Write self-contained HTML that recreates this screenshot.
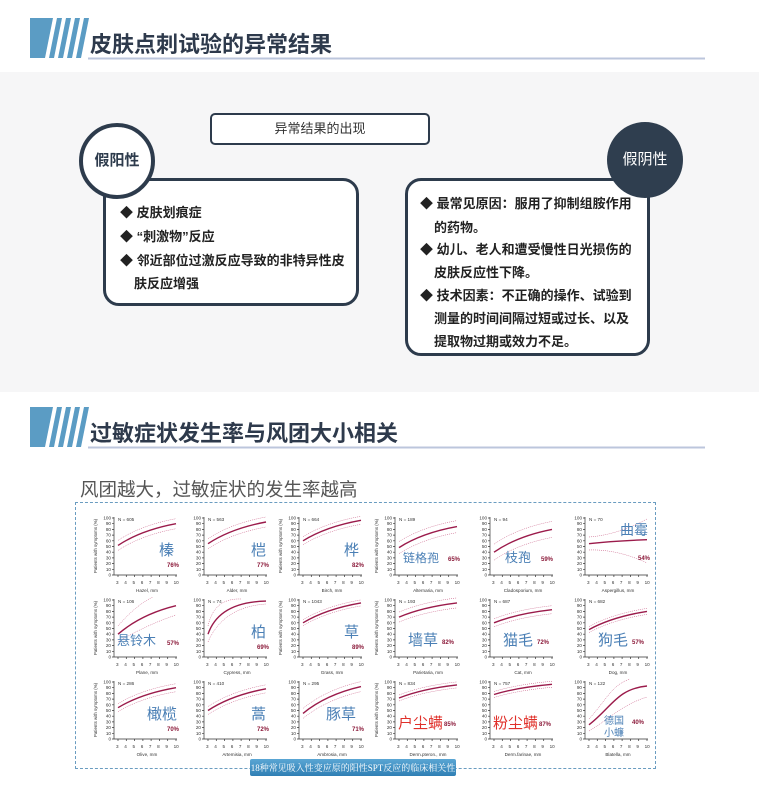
<!DOCTYPE html>
<html><head><meta charset="utf-8"><style>
body{margin:0;width:759px;height:791px;background:#fff;position:relative;overflow:hidden;font-family:"Liberation Sans","Noto Sans CJK SC",sans-serif}
.a{position:absolute}
.box{position:absolute;border:3px solid #2d3b4c;border-radius:16px;background:#fff;box-sizing:border-box}
.ln{position:absolute;font-size:13px;color:#222;white-space:nowrap;font-weight:bold}
</style></head><body>
<div class="a" style="left:0;top:72px;width:759px;height:320px;background:#f6f6f7"></div>
<svg class="a" style="left:0;top:0" width="759" height="791">
 <g fill="#5b9cc4">
  <polygon points="30,18 53,18 45,58 30,58"/>
  <polygon points="57,18 62,18 54,58 49,58"/>
  <polygon points="66,18 71,18 63,58 58,58"/>
  <polygon points="75,18 80,18 72,58 67,58"/>
  <polygon points="84,18 89,18 81,58 76,58"/>
  <polygon points="30,407 53,407 45,447 30,447"/>
  <polygon points="57,407 62,407 54,447 49,447"/>
  <polygon points="66,407 71,407 63,447 58,447"/>
  <polygon points="75,407 80,407 72,447 67,447"/>
  <polygon points="84,407 89,407 81,447 76,447"/>
 </g>
 <line x1="88" y1="58.5" x2="705" y2="58.5" stroke="#bcc6dc" stroke-width="2"/>
 <line x1="88" y1="447.5" x2="705" y2="447.5" stroke="#bcc6dc" stroke-width="2"/>
 <text x="90" y="52" font-size="22" font-weight="bold" fill="#2e3a4c" font-family="Liberation Sans,Noto Sans CJK SC,sans-serif">皮肤点刺试验的异常结果</text>
 <text x="90" y="441" font-size="22" font-weight="bold" fill="#2e3a4c" font-family="Liberation Sans,Noto Sans CJK SC,sans-serif">过敏症状发生率与风团大小相关</text>
</svg>

<div class="a" style="left:210px;top:113px;width:220px;height:32px;border:2px solid #2d3b4c;border-radius:5px;box-sizing:border-box;background:#fff;text-align:center;line-height:28px;font-size:13px;color:#333">异常结果的出现</div>

<div class="box" style="left:103px;top:178px;width:256px;height:128px"></div>
<div class="ln" style="left:120px;top:202px">◆ 皮肤划痕症</div>
<div class="ln" style="left:120px;top:226px">◆ “刺激物”反应</div>
<div class="ln" style="left:120px;top:250px">◆ 邻近部位过激反应导致的非特异性皮</div>
<div class="ln" style="left:134px;top:273px">肤反应增强</div>
<div class="a" style="left:79px;top:123px;width:76px;height:76px;border-radius:50%;border:4px solid #2d3b4c;background:#fff;box-sizing:border-box;text-align:center;line-height:68px;font-size:15px;font-weight:bold;color:#2d3b4c">假阳性</div>

<div class="box" style="left:405px;top:178px;width:245px;height:178px"></div>
<div class="ln" style="left:420px;top:193px">◆ 最常见原因：服用了抑制组胺作用</div>
<div class="ln" style="left:434px;top:217px">的药物。</div>
<div class="ln" style="left:420px;top:239px">◆ 幼儿、老人和遭受慢性日光损伤的</div>
<div class="ln" style="left:434px;top:262px">皮肤反应性下降。</div>
<div class="ln" style="left:420px;top:285px">◆ 技术因素：不正确的操作、试验到</div>
<div class="ln" style="left:434px;top:308px">测量的时间间隔过短或过长、以及</div>
<div class="ln" style="left:434px;top:331px">提取物过期或效力不足。</div>
<div class="a" style="left:607px;top:122px;width:76px;height:76px;border-radius:50%;background:#2f3e4f;text-align:center;line-height:76px;font-size:15px;color:#fff">假阴性</div>

<div class="a" style="left:80px;top:476px;font-size:18.5px;color:#555">风团越大，过敏症状的发生率越高</div>
<div class="a" style="left:75px;top:502px;width:581px;height:267px;border:1.5px dashed #6a9cc0;box-sizing:border-box"></div>

<svg class="a" style="left:0;top:0" width="759" height="791" font-family="Liberation Sans,Noto Sans CJK SC,sans-serif">
<defs>
 <g id="fr" stroke="#333" stroke-width="0.7" fill="none">
  <path d="M23,4V62H86M23,5h-2M23,10.7h-2M23,16.4h-2M23,22.1h-2M23,27.8h-2M23,33.5h-2M23,39.2h-2M23,44.9h-2M23,50.6h-2M23,56.3h-2M23,62h-2M27,62v2M35.3,62v2M43.6,62v2M51.9,62v2M60.1,62v2M68.4,62v2M76.7,62v2M85,62v2"/>
 </g>
</defs>
<g font-size="4.6" fill="#333">
<g transform="translate(91,513)"><use href="#fr"/>
<text x="20" y="6.5" text-anchor="end">100</text><text x="20" y="35" text-anchor="end">50</text><text x="20" y="63.5" text-anchor="end">0</text>
<text x="20" y="12.2" text-anchor="end">90</text><text x="20" y="17.9" text-anchor="end">80</text><text x="20" y="23.6" text-anchor="end">70</text><text x="20" y="29.3" text-anchor="end">60</text><text x="20" y="40.7" text-anchor="end">40</text><text x="20" y="46.4" text-anchor="end">30</text><text x="20" y="52.1" text-anchor="end">20</text><text x="20" y="57.8" text-anchor="end">10</text>
<text x="25" y="71" word-spacing="4.4">3 4 5 6 7 8 9 10</text><text x="56" y="79" text-anchor="middle">Hazel, mm</text><text x="27" y="8">N = 605</text>
<text transform="translate(6,33) rotate(-90)" text-anchor="middle" font-size="4.4">Patients with symptoms (%)</text>
<path d="M27,32.4Q50,17.2 85,10.7" stroke="#9b1b4b" stroke-width="1.4" fill="none"/><path d="M27,32.4Q50,17.2 85,10.7" stroke="#c04070" stroke-width=".5" stroke-dasharray="1,1" fill="none" transform="translate(0,-5)"/><path d="M27,32.4Q50,17.2 85,10.7" stroke="#c04070" stroke-width=".5" stroke-dasharray="1,1" fill="none" transform="translate(0,5)"/>
<text x="68" y="42" font-size="15" fill="#4a7fb5">榛</text><text x="88" y="54" font-size="6" font-weight="bold" fill="#8b1a3a" text-anchor="end">76%</text></g>

<g transform="translate(181,513)"><use href="#fr"/>
<text x="20" y="6.5" text-anchor="end">100</text><text x="20" y="35" text-anchor="end">50</text><text x="20" y="63.5" text-anchor="end">0</text><text x="20" y="12.2" text-anchor="end">90</text><text x="20" y="17.9" text-anchor="end">80</text><text x="20" y="23.6" text-anchor="end">70</text><text x="20" y="29.3" text-anchor="end">60</text><text x="20" y="40.7" text-anchor="end">40</text><text x="20" y="46.4" text-anchor="end">30</text><text x="20" y="52.1" text-anchor="end">20</text><text x="20" y="57.8" text-anchor="end">10</text>
<text x="25" y="71" word-spacing="4.4">3 4 5 6 7 8 9 10</text><text x="56" y="79" text-anchor="middle">Alder, mm</text><text x="27" y="8">N = 563</text>
<path d="M27,30.7Q50,15.5 85,9" stroke="#9b1b4b" stroke-width="1.4" fill="none"/><path d="M27,30.7Q50,15.5 85,9" stroke="#c04070" stroke-width=".5" stroke-dasharray="1,1" fill="none" transform="translate(0,-5)"/><path d="M27,30.7Q50,15.5 85,9" stroke="#c04070" stroke-width=".5" stroke-dasharray="1,1" fill="none" transform="translate(0,5)"/>
<text x="70" y="42" font-size="15" fill="#4a7fb5">桤</text><text x="88" y="54" font-size="6" font-weight="bold" fill="#8b1a3a" text-anchor="end">77%</text></g>

<g transform="translate(276,513)"><use href="#fr"/>
<text x="20" y="6.5" text-anchor="end">100</text><text x="20" y="35" text-anchor="end">50</text><text x="20" y="63.5" text-anchor="end">0</text><text x="20" y="12.2" text-anchor="end">90</text><text x="20" y="17.9" text-anchor="end">80</text><text x="20" y="23.6" text-anchor="end">70</text><text x="20" y="29.3" text-anchor="end">60</text><text x="20" y="40.7" text-anchor="end">40</text><text x="20" y="46.4" text-anchor="end">30</text><text x="20" y="52.1" text-anchor="end">20</text><text x="20" y="57.8" text-anchor="end">10</text>
<text x="25" y="71" word-spacing="4.4">3 4 5 6 7 8 9 10</text><text x="56" y="79" text-anchor="middle">Birch, mm</text><text x="27" y="8">N = 664</text>
<text transform="translate(6,33) rotate(-90)" text-anchor="middle" font-size="4.4">Patients with symptoms (%)</text>
<path d="M27,27.8Q50,13.5 85,7.3" stroke="#9b1b4b" stroke-width="1.4" fill="none"/><path d="M27,27.8Q50,13.5 85,7.3" stroke="#c04070" stroke-width=".5" stroke-dasharray="1,1" fill="none" transform="translate(0,-4)"/><path d="M27,27.8Q50,13.5 85,7.3" stroke="#c04070" stroke-width=".5" stroke-dasharray="1,1" fill="none" transform="translate(0,4)"/>
<text x="68" y="42" font-size="15" fill="#4a7fb5">桦</text><text x="88" y="54" font-size="6" font-weight="bold" fill="#8b1a3a" text-anchor="end">82%</text></g>

<g transform="translate(372,513)"><use href="#fr"/>
<text x="20" y="6.5" text-anchor="end">100</text><text x="20" y="35" text-anchor="end">50</text><text x="20" y="63.5" text-anchor="end">0</text><text x="20" y="12.2" text-anchor="end">90</text><text x="20" y="17.9" text-anchor="end">80</text><text x="20" y="23.6" text-anchor="end">70</text><text x="20" y="29.3" text-anchor="end">60</text><text x="20" y="40.7" text-anchor="end">40</text><text x="20" y="46.4" text-anchor="end">30</text><text x="20" y="52.1" text-anchor="end">20</text><text x="20" y="57.8" text-anchor="end">10</text>
<text x="25" y="71" word-spacing="4.4">3 4 5 6 7 8 9 10</text><text x="56" y="79" text-anchor="middle">Alternaria, mm</text><text x="27" y="8">N = 189</text>
<text transform="translate(6,33) rotate(-90)" text-anchor="middle" font-size="4.4">Patients with symptoms (%)</text>
<path d="M27,34.6Q50,19.9 85,13.6" stroke="#9b1b4b" stroke-width="1.4" fill="none"/><path d="M27,34.6Q50,19.9 85,13.6" stroke="#c04070" stroke-width=".5" stroke-dasharray="1,1" fill="none" transform="translate(0,-6)"/><path d="M27,34.6Q50,19.9 85,13.6" stroke="#c04070" stroke-width=".5" stroke-dasharray="1,1" fill="none" transform="translate(0,6)"/>
<text x="31" y="49" font-size="12" fill="#4a7fb5">链格孢</text><text x="88" y="48" font-size="6" font-weight="bold" fill="#8b1a3a" text-anchor="end">65%</text></g>

<g transform="translate(467,513)"><use href="#fr"/>
<text x="20" y="6.5" text-anchor="end">100</text><text x="20" y="35" text-anchor="end">50</text><text x="20" y="63.5" text-anchor="end">0</text><text x="20" y="12.2" text-anchor="end">90</text><text x="20" y="17.9" text-anchor="end">80</text><text x="20" y="23.6" text-anchor="end">70</text><text x="20" y="29.3" text-anchor="end">60</text><text x="20" y="40.7" text-anchor="end">40</text><text x="20" y="46.4" text-anchor="end">30</text><text x="20" y="52.1" text-anchor="end">20</text><text x="20" y="57.8" text-anchor="end">10</text>
<text x="25" y="71" word-spacing="4.4">3 4 5 6 7 8 9 10</text><text x="56" y="79" text-anchor="middle">Cladosporium, mm</text><text x="27" y="8">N = 94</text>
<path d="M27,39.2Q50,23.2 85,16.4" stroke="#9b1b4b" stroke-width="1.4" fill="none"/><path d="M27,39.2Q50,23.2 85,16.4" stroke="#c04070" stroke-width=".5" stroke-dasharray="1,1" fill="none" transform="translate(0,-8)"/><path d="M27,39.2Q50,23.2 85,16.4" stroke="#c04070" stroke-width=".5" stroke-dasharray="1,1" fill="none" transform="translate(0,8)"/>
<text x="38" y="49" font-size="13" fill="#4a7fb5">枝孢</text><text x="86" y="48" font-size="6" font-weight="bold" fill="#8b1a3a" text-anchor="end">59%</text></g>

<g transform="translate(562,513)"><use href="#fr"/>
<text x="20" y="6.5" text-anchor="end">100</text><text x="20" y="35" text-anchor="end">50</text><text x="20" y="63.5" text-anchor="end">0</text><text x="20" y="12.2" text-anchor="end">90</text><text x="20" y="17.9" text-anchor="end">80</text><text x="20" y="23.6" text-anchor="end">70</text><text x="20" y="29.3" text-anchor="end">60</text><text x="20" y="40.7" text-anchor="end">40</text><text x="20" y="46.4" text-anchor="end">30</text><text x="20" y="52.1" text-anchor="end">20</text><text x="20" y="57.8" text-anchor="end">10</text>
<text x="25" y="71" word-spacing="4.4">3 4 5 6 7 8 9 10</text><text x="56" y="79" text-anchor="middle">Aspergillus, mm</text><text x="27" y="8">N = 70</text>
<path d="M27,30.7Q50,28 85,26.7" stroke="#9b1b4b" stroke-width="1.4" fill="none"/><path d="M27,24Q55,22 85,6" stroke="#c04070" stroke-width=".5" stroke-dasharray="1,1" fill="none"/><path d="M27,37Q55,36 85,50" stroke="#c04070" stroke-width=".5" stroke-dasharray="1,1" fill="none"/>
<text x="58" y="22" font-size="14" fill="#4a7fb5">曲霉</text><text x="88" y="47" font-size="6" font-weight="bold" fill="#8b1a3a" text-anchor="end">54%</text></g>

<g transform="translate(91,595)"><use href="#fr"/>
<text x="20" y="6.5" text-anchor="end">100</text><text x="20" y="35" text-anchor="end">50</text><text x="20" y="63.5" text-anchor="end">0</text><text x="20" y="12.2" text-anchor="end">90</text><text x="20" y="17.9" text-anchor="end">80</text><text x="20" y="23.6" text-anchor="end">70</text><text x="20" y="29.3" text-anchor="end">60</text><text x="20" y="40.7" text-anchor="end">40</text><text x="20" y="46.4" text-anchor="end">30</text><text x="20" y="52.1" text-anchor="end">20</text><text x="20" y="57.8" text-anchor="end">10</text>
<text x="25" y="71" word-spacing="4.4">3 4 5 6 7 8 9 10</text><text x="56" y="79" text-anchor="middle">Plane, mm</text><text x="27" y="8">N = 106</text>
<text transform="translate(6,33) rotate(-90)" text-anchor="middle" font-size="4.4">Patients with symptoms (%)</text>
<path d="M27,39.2Q50,19.3 85,10.7" stroke="#9b1b4b" stroke-width="1.4" fill="none"/><path d="M27,31Q45,10 62,2" stroke="#c04070" stroke-width=".5" stroke-dasharray="1,1" fill="none"/><path d="M27,47Q55,30 85,20" stroke="#c04070" stroke-width=".5" stroke-dasharray="1,1" fill="none"/>
<text x="26" y="50" font-size="13" fill="#4a7fb5">悬铃木</text><text x="88" y="50" font-size="6" font-weight="bold" fill="#8b1a3a" text-anchor="end">57%</text></g>

<g transform="translate(181,595)"><use href="#fr"/>
<text x="20" y="6.5" text-anchor="end">100</text><text x="20" y="35" text-anchor="end">50</text><text x="20" y="63.5" text-anchor="end">0</text><text x="20" y="12.2" text-anchor="end">90</text><text x="20" y="17.9" text-anchor="end">80</text><text x="20" y="23.6" text-anchor="end">70</text><text x="20" y="29.3" text-anchor="end">60</text><text x="20" y="40.7" text-anchor="end">40</text><text x="20" y="46.4" text-anchor="end">30</text><text x="20" y="52.1" text-anchor="end">20</text><text x="20" y="57.8" text-anchor="end">10</text>
<text x="25" y="71" word-spacing="4.4">3 4 5 6 7 8 9 10</text><text x="56" y="79" text-anchor="middle">Cypress, mm</text><text x="27" y="8">N = 74</text>
<path d="M27,39.2Q38,7 85,6.1" stroke="#9b1b4b" stroke-width="1.4" fill="none"/><path d="M27,31Q33,3 60,4" stroke="#c04070" stroke-width=".5" stroke-dasharray="1,1" fill="none"/><path d="M27,47Q42,12 85,9" stroke="#c04070" stroke-width=".5" stroke-dasharray="1,1" fill="none"/>
<text x="70" y="42" font-size="15" fill="#4a7fb5">柏</text><text x="88" y="54" font-size="6" font-weight="bold" fill="#8b1a3a" text-anchor="end">69%</text></g>

<g transform="translate(276,595)"><use href="#fr"/>
<text x="20" y="6.5" text-anchor="end">100</text><text x="20" y="35" text-anchor="end">50</text><text x="20" y="63.5" text-anchor="end">0</text><text x="20" y="12.2" text-anchor="end">90</text><text x="20" y="17.9" text-anchor="end">80</text><text x="20" y="23.6" text-anchor="end">70</text><text x="20" y="29.3" text-anchor="end">60</text><text x="20" y="40.7" text-anchor="end">40</text><text x="20" y="46.4" text-anchor="end">30</text><text x="20" y="52.1" text-anchor="end">20</text><text x="20" y="57.8" text-anchor="end">10</text>
<text x="25" y="71" word-spacing="4.4">3 4 5 6 7 8 9 10</text><text x="56" y="79" text-anchor="middle">Grass, mm</text><text x="27" y="8">N = 1043</text>
<text transform="translate(6,33) rotate(-90)" text-anchor="middle" font-size="4.4">Patients with symptoms (%)</text>
<path d="M27,27.8Q50,13.9 85,7.9" stroke="#9b1b4b" stroke-width="1.4" fill="none"/><path d="M27,27.8Q50,13.9 85,7.9" stroke="#c04070" stroke-width=".5" stroke-dasharray="1,1" fill="none" transform="translate(0,-3)"/><path d="M27,27.8Q50,13.9 85,7.9" stroke="#c04070" stroke-width=".5" stroke-dasharray="1,1" fill="none" transform="translate(0,3)"/>
<text x="68" y="42" font-size="15" fill="#4a7fb5">草</text><text x="88" y="54" font-size="6" font-weight="bold" fill="#8b1a3a" text-anchor="end">89%</text></g>

<g transform="translate(372,595)"><use href="#fr"/>
<text x="20" y="6.5" text-anchor="end">100</text><text x="20" y="35" text-anchor="end">50</text><text x="20" y="63.5" text-anchor="end">0</text><text x="20" y="12.2" text-anchor="end">90</text><text x="20" y="17.9" text-anchor="end">80</text><text x="20" y="23.6" text-anchor="end">70</text><text x="20" y="29.3" text-anchor="end">60</text><text x="20" y="40.7" text-anchor="end">40</text><text x="20" y="46.4" text-anchor="end">30</text><text x="20" y="52.1" text-anchor="end">20</text><text x="20" y="57.8" text-anchor="end">10</text>
<text x="25" y="71" word-spacing="4.4">3 4 5 6 7 8 9 10</text><text x="56" y="79" text-anchor="middle">Parietaria, mm</text><text x="27" y="8">N = 193</text>
<text transform="translate(6,33) rotate(-90)" text-anchor="middle" font-size="4.4">Patients with symptoms (%)</text>
<path d="M27,22.1Q50,12.2 85,7.9" stroke="#9b1b4b" stroke-width="1.4" fill="none"/><path d="M27,22.1Q50,12.2 85,7.9" stroke="#c04070" stroke-width=".5" stroke-dasharray="1,1" fill="none" transform="translate(0,-5)"/><path d="M27,22.1Q50,12.2 85,7.9" stroke="#c04070" stroke-width=".5" stroke-dasharray="1,1" fill="none" transform="translate(0,5)"/>
<text x="36" y="50" font-size="15" fill="#4a7fb5">墙草</text><text x="70" y="49" font-size="6" font-weight="bold" fill="#8b1a3a">82%</text></g>

<g transform="translate(467,595)"><use href="#fr"/>
<text x="20" y="6.5" text-anchor="end">100</text><text x="20" y="35" text-anchor="end">50</text><text x="20" y="63.5" text-anchor="end">0</text><text x="20" y="12.2" text-anchor="end">90</text><text x="20" y="17.9" text-anchor="end">80</text><text x="20" y="23.6" text-anchor="end">70</text><text x="20" y="29.3" text-anchor="end">60</text><text x="20" y="40.7" text-anchor="end">40</text><text x="20" y="46.4" text-anchor="end">30</text><text x="20" y="52.1" text-anchor="end">20</text><text x="20" y="57.8" text-anchor="end">10</text>
<text x="25" y="71" word-spacing="4.4">3 4 5 6 7 8 9 10</text><text x="56" y="79" text-anchor="middle">Cat, mm</text><text x="27" y="8">N = 687</text>
<path d="M27,27.8Q50,18.6 85,14.7" stroke="#9b1b4b" stroke-width="1.4" fill="none"/><path d="M27,27.8Q50,18.6 85,14.7" stroke="#c04070" stroke-width=".5" stroke-dasharray="1,1" fill="none" transform="translate(0,-4)"/><path d="M27,27.8Q50,18.6 85,14.7" stroke="#c04070" stroke-width=".5" stroke-dasharray="1,1" fill="none" transform="translate(0,4)"/>
<text x="36" y="50" font-size="15" fill="#4a7fb5">猫毛</text><text x="70" y="49" font-size="6" font-weight="bold" fill="#8b1a3a">72%</text></g>

<g transform="translate(562,595)"><use href="#fr"/>
<text x="20" y="6.5" text-anchor="end">100</text><text x="20" y="35" text-anchor="end">50</text><text x="20" y="63.5" text-anchor="end">0</text><text x="20" y="12.2" text-anchor="end">90</text><text x="20" y="17.9" text-anchor="end">80</text><text x="20" y="23.6" text-anchor="end">70</text><text x="20" y="29.3" text-anchor="end">60</text><text x="20" y="40.7" text-anchor="end">40</text><text x="20" y="46.4" text-anchor="end">30</text><text x="20" y="52.1" text-anchor="end">20</text><text x="20" y="57.8" text-anchor="end">10</text>
<text x="25" y="71" word-spacing="4.4">3 4 5 6 7 8 9 10</text><text x="56" y="79" text-anchor="middle">Dog, mm</text><text x="27" y="8">N = 682</text>
<path d="M27,34.6Q50,21.9 85,16.4" stroke="#9b1b4b" stroke-width="1.4" fill="none"/><path d="M27,34.6Q50,21.9 85,16.4" stroke="#c04070" stroke-width=".5" stroke-dasharray="1,1" fill="none" transform="translate(0,-3)"/><path d="M27,34.6Q50,21.9 85,16.4" stroke="#c04070" stroke-width=".5" stroke-dasharray="1,1" fill="none" transform="translate(0,3)"/>
<text x="36" y="50" font-size="15" fill="#4a7fb5">狗毛</text><text x="70" y="49" font-size="6" font-weight="bold" fill="#8b1a3a">57%</text></g>

<g transform="translate(91,677)"><use href="#fr"/>
<text x="20" y="6.5" text-anchor="end">100</text><text x="20" y="35" text-anchor="end">50</text><text x="20" y="63.5" text-anchor="end">0</text><text x="20" y="12.2" text-anchor="end">90</text><text x="20" y="17.9" text-anchor="end">80</text><text x="20" y="23.6" text-anchor="end">70</text><text x="20" y="29.3" text-anchor="end">60</text><text x="20" y="40.7" text-anchor="end">40</text><text x="20" y="46.4" text-anchor="end">30</text><text x="20" y="52.1" text-anchor="end">20</text><text x="20" y="57.8" text-anchor="end">10</text>
<text x="25" y="71" word-spacing="4.4">3 4 5 6 7 8 9 10</text><text x="56" y="79" text-anchor="middle">Olive, mm</text><text x="27" y="8">N = 286</text>
<text transform="translate(6,33) rotate(-90)" text-anchor="middle" font-size="4.4">Patients with symptoms (%)</text>
<path d="M27,30.7Q50,16.7 85,10.7" stroke="#9b1b4b" stroke-width="1.4" fill="none"/><path d="M27,30.7Q50,16.7 85,10.7" stroke="#c04070" stroke-width=".5" stroke-dasharray="1,1" fill="none" transform="translate(0,-4)"/><path d="M27,30.7Q50,16.7 85,10.7" stroke="#c04070" stroke-width=".5" stroke-dasharray="1,1" fill="none" transform="translate(0,4)"/>
<text x="56" y="42" font-size="15" fill="#4a7fb5">橄榄</text><text x="88" y="54" font-size="6" font-weight="bold" fill="#8b1a3a" text-anchor="end">70%</text></g>

<g transform="translate(181,677)"><use href="#fr"/>
<text x="20" y="6.5" text-anchor="end">100</text><text x="20" y="35" text-anchor="end">50</text><text x="20" y="63.5" text-anchor="end">0</text><text x="20" y="12.2" text-anchor="end">90</text><text x="20" y="17.9" text-anchor="end">80</text><text x="20" y="23.6" text-anchor="end">70</text><text x="20" y="29.3" text-anchor="end">60</text><text x="20" y="40.7" text-anchor="end">40</text><text x="20" y="46.4" text-anchor="end">30</text><text x="20" y="52.1" text-anchor="end">20</text><text x="20" y="57.8" text-anchor="end">10</text>
<text x="25" y="71" word-spacing="4.4">3 4 5 6 7 8 9 10</text><text x="56" y="79" text-anchor="middle">Artemisia, mm</text><text x="27" y="8">N = 410</text>
<path d="M27,33.5Q50,18.3 85,11.8" stroke="#9b1b4b" stroke-width="1.4" fill="none"/><path d="M27,33.5Q50,18.3 85,11.8" stroke="#c04070" stroke-width=".5" stroke-dasharray="1,1" fill="none" transform="translate(0,-4)"/><path d="M27,33.5Q50,18.3 85,11.8" stroke="#c04070" stroke-width=".5" stroke-dasharray="1,1" fill="none" transform="translate(0,4)"/>
<text x="70" y="42" font-size="15" fill="#4a7fb5">蒿</text><text x="88" y="54" font-size="6" font-weight="bold" fill="#8b1a3a" text-anchor="end">72%</text></g>

<g transform="translate(276,677)"><use href="#fr"/>
<text x="20" y="6.5" text-anchor="end">100</text><text x="20" y="35" text-anchor="end">50</text><text x="20" y="63.5" text-anchor="end">0</text><text x="20" y="12.2" text-anchor="end">90</text><text x="20" y="17.9" text-anchor="end">80</text><text x="20" y="23.6" text-anchor="end">70</text><text x="20" y="29.3" text-anchor="end">60</text><text x="20" y="40.7" text-anchor="end">40</text><text x="20" y="46.4" text-anchor="end">30</text><text x="20" y="52.1" text-anchor="end">20</text><text x="20" y="57.8" text-anchor="end">10</text>
<text x="25" y="71" word-spacing="4.4">3 4 5 6 7 8 9 10</text><text x="56" y="79" text-anchor="middle">Ambrosia, mm</text><text x="27" y="8">N = 295</text>
<path d="M27,36.4Q50,17.6 85,9.6" stroke="#9b1b4b" stroke-width="1.4" fill="none"/><path d="M27,36.4Q50,17.6 85,9.6" stroke="#c04070" stroke-width=".5" stroke-dasharray="1,1" fill="none" transform="translate(0,-5)"/><path d="M27,36.4Q50,17.6 85,9.6" stroke="#c04070" stroke-width=".5" stroke-dasharray="1,1" fill="none" transform="translate(0,5)"/>
<text x="50" y="42" font-size="15" fill="#4a7fb5">豚草</text><text x="88" y="54" font-size="6" font-weight="bold" fill="#8b1a3a" text-anchor="end">71%</text></g>

<g transform="translate(372,677)"><use href="#fr"/>
<text x="20" y="6.5" text-anchor="end">100</text><text x="20" y="35" text-anchor="end">50</text><text x="20" y="63.5" text-anchor="end">0</text><text x="20" y="12.2" text-anchor="end">90</text><text x="20" y="17.9" text-anchor="end">80</text><text x="20" y="23.6" text-anchor="end">70</text><text x="20" y="29.3" text-anchor="end">60</text><text x="20" y="40.7" text-anchor="end">40</text><text x="20" y="46.4" text-anchor="end">30</text><text x="20" y="52.1" text-anchor="end">20</text><text x="20" y="57.8" text-anchor="end">10</text>
<text x="25" y="71" word-spacing="4.4">3 4 5 6 7 8 9 10</text><text x="56" y="79" text-anchor="middle">Derm.pteron., mm</text><text x="27" y="8">N = 834</text>
<text transform="translate(6,33) rotate(-90)" text-anchor="middle" font-size="4.4">Patients with symptoms (%)</text>
<path d="M27,21Q50,11.8 85,7.9" stroke="#9b1b4b" stroke-width="1.4" fill="none"/><path d="M27,21Q50,11.8 85,7.9" stroke="#c04070" stroke-width=".5" stroke-dasharray="1,1" fill="none" transform="translate(0,-3)"/><path d="M27,21Q50,11.8 85,7.9" stroke="#c04070" stroke-width=".5" stroke-dasharray="1,1" fill="none" transform="translate(0,3)"/>
<text x="26" y="51" font-size="15" fill="#e0302a">户尘螨</text><text x="72" y="49" font-size="6" font-weight="bold" fill="#8b1a3a">85%</text></g>

<g transform="translate(467,677)"><use href="#fr"/>
<text x="20" y="6.5" text-anchor="end">100</text><text x="20" y="35" text-anchor="end">50</text><text x="20" y="63.5" text-anchor="end">0</text><text x="20" y="12.2" text-anchor="end">90</text><text x="20" y="17.9" text-anchor="end">80</text><text x="20" y="23.6" text-anchor="end">70</text><text x="20" y="29.3" text-anchor="end">60</text><text x="20" y="40.7" text-anchor="end">40</text><text x="20" y="46.4" text-anchor="end">30</text><text x="20" y="52.1" text-anchor="end">20</text><text x="20" y="57.8" text-anchor="end">10</text>
<text x="25" y="71" word-spacing="4.4">3 4 5 6 7 8 9 10</text><text x="56" y="79" text-anchor="middle">Derm.farinae, mm</text><text x="27" y="8">N = 757</text>
<path d="M27,17.5Q50,10.4 85,7.3" stroke="#9b1b4b" stroke-width="1.4" fill="none"/><path d="M27,17.5Q50,10.4 85,7.3" stroke="#c04070" stroke-width=".5" stroke-dasharray="1,1" fill="none" transform="translate(0,-3)"/><path d="M27,17.5Q50,10.4 85,7.3" stroke="#c04070" stroke-width=".5" stroke-dasharray="1,1" fill="none" transform="translate(0,3)"/>
<text x="26" y="51" font-size="15" fill="#e0302a">粉尘螨</text><text x="72" y="49" font-size="6" font-weight="bold" fill="#8b1a3a">87%</text></g>

<g transform="translate(562,677)"><use href="#fr"/>
<text x="20" y="6.5" text-anchor="end">100</text><text x="20" y="35" text-anchor="end">50</text><text x="20" y="63.5" text-anchor="end">0</text><text x="20" y="12.2" text-anchor="end">90</text><text x="20" y="17.9" text-anchor="end">80</text><text x="20" y="23.6" text-anchor="end">70</text><text x="20" y="29.3" text-anchor="end">60</text><text x="20" y="40.7" text-anchor="end">40</text><text x="20" y="46.4" text-anchor="end">30</text><text x="20" y="52.1" text-anchor="end">20</text><text x="20" y="57.8" text-anchor="end">10</text>
<text x="25" y="71" word-spacing="4.4">3 4 5 6 7 8 9 10</text><text x="56" y="79" text-anchor="middle">Blatella, mm</text><text x="27" y="8">N = 122</text>
<path d="M27,47.8C50,30 55,12 85,9" stroke="#9b1b4b" stroke-width="1.4" fill="none"/><path d="M27,42C45,22 50,8 68,2" stroke="#c04070" stroke-width=".5" stroke-dasharray="1,1" fill="none"/><path d="M27,54C50,40 60,28 85,20" stroke="#c04070" stroke-width=".5" stroke-dasharray="1,1" fill="none"/>
<text x="42" y="47" font-size="10" fill="#4a7fb5">德国</text><text x="42" y="59" font-size="10" fill="#4a7fb5">小蠊</text><text x="70" y="47" font-size="6" font-weight="bold" fill="#8b1a3a">40%</text></g>
</g>
<defs><linearGradient id="cg" x1="0" y1="0" x2="0" y2="1"><stop offset="0" stop-color="#5aa6d4"/><stop offset="1" stop-color="#2f7fb4"/></linearGradient></defs>
<rect x="250" y="759" width="206" height="17" rx="2" fill="url(#cg)"/>
<text x="353" y="771" text-anchor="middle" font-size="9" fill="#fff" font-family="Liberation Serif,Noto Serif CJK SC,serif">18种常见吸入性变应原的阳性SPT反应的临床相关性</text>
</svg>
</body></html>
